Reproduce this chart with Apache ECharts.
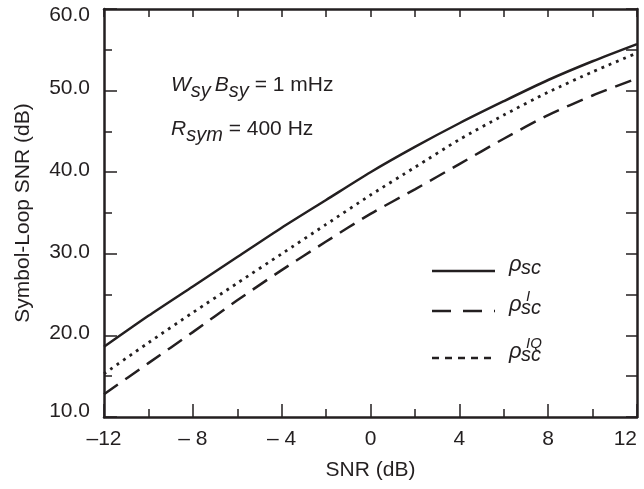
<!DOCTYPE html>
<html>
<head>
<meta charset="utf-8">
<script src="https://cdn.jsdelivr.net/npm/echarts@6/dist/echarts.min.js"></script>
<style>
  html, body { margin: 0; padding: 0; background: #fff; }
  #chart { width: 644px; height: 489px; }
</style>
</head>
<body>
<div id="chart"></div>
<script>
// Symbol-loop SNR versus SNR for the three loop variants
const snr = [-12, -10, -8, -6, -4, -2, 0, 2, 4, 6, 8, 10, 12];
const rhoSc = [18.6, 22.4, 26.0, 29.6, 33.2, 36.6, 40.0, 43.1, 46.0, 48.7, 51.3, 53.6, 55.7];
const rhoScIQ = [15.3, 19.1, 22.8, 26.4, 30.0, 33.6, 37.2, 40.6, 44.0, 47.0, 49.8, 52.3, 54.6];
const rhoScI = [12.8, 16.6, 20.4, 24.3, 28.0, 31.5, 34.9, 37.9, 41.0, 44.1, 47.0, 49.4, 51.5];
const xTicks = [-12, -8, -4, 0, 4, 8, 12];
const yTicks = [10, 20, 30, 40, 50, 60];

const INK = '#231f20';
const FONT = '"Liberation Sans", Arial, Helvetica, sans-serif';
const FS = 21;

const pairs = (ys) => snr.map((x, i) => [x, ys[i]]);

// measure text so that multi-part labels (subscripts, superscripts) can be laid out
const measureCtx = document.createElement('canvas').getContext('2d');
function textWidth(t, size, italic) {
  measureCtx.font = (italic ? 'italic ' : '') + size + 'px ' + FONT;
  return measureCtx.measureText(t).width;
}
function textEl(t, x, baseline, size, italic) {
  return {
    type: 'text', x: x, y: baseline - 0.32 * size, silent: true,
    style: {
      text: t, fill: INK, fontSize: size, fontFamily: FONT,
      fontStyle: italic ? 'italic' : 'normal',
      align: 'left', verticalAlign: 'middle'
    }
  };
}
// lay out a row of parts; each part: [text, size, italic, dy, extra gap after]
function textRun(x, baseline, parts) {
  const els = [];
  let cx = x;
  parts.forEach(([t, size, italic, dy, gap]) => {
    els.push(textEl(t, cx, baseline + (dy || 0), size, italic));
    cx += textWidth(t, size, italic) + (gap || 0);
  });
  return els;
}

const graphics = [];
// parameter annotations
graphics.push(...textRun(171, 92, [
  ['W', FS, true, 0], ['sy', 20, true, 6, 4], ['B', FS, true, 0], ['sy', 20, true, 6], [' = 1 mHz', FS, false, 0]
]));
graphics.push(...textRun(171, 136, [
  ['R', FS, true, 0], ['sym', 20, true, 6], [' = 400 Hz', FS, false, 0]
]));

// legend
const legendRows = [
  { y: 271, dash: null, sup: null },
  { y: 311, dash: [19, 12], sup: 'I' },
  { y: 358, dash: [7, 6], sup: 'IQ' }
];
legendRows.forEach((r) => {
  graphics.push({
    type: 'line', silent: true,
    shape: { x1: 432, y1: r.y, x2: 495, y2: r.y },
    style: { stroke: INK, lineWidth: 2.5, lineDash: r.dash || null }
  });
  graphics.push(textEl('\u03c1', 509, r.y + 1, 22, true));
  graphics.push(textEl('sc', 521, r.y + 4, 20, true));
  if (r.sup) graphics.push(textEl(r.sup, 526, r.y - 9, 15, true));
});

const chart = echarts.init(document.getElementById('chart'), null, { renderer: 'canvas' });

const lineSeries = (name, ys, type, width) => ({
  name: name, type: 'line', data: pairs(ys), showSymbol: false, smooth: 0.25,
  xAxisIndex: 0, yAxisIndex: 0, silent: true,
  lineStyle: { color: INK, width: width, type: type, cap: 'butt' }
});

const frameLine = { show: true, onZero: false, lineStyle: { color: INK, width: 2.5 } };
const labelBase = { fontSize: FS, color: INK, fontFamily: FONT };

chart.setOption({
  animation: false,
  backgroundColor: '#fff',
  textStyle: { fontFamily: FONT, color: INK },
  grid: { left: 104, right: 7, top: 9, bottom: 72 },
  xAxis: [{
    type: 'value', min: -12, max: 12, interval: 4, position: 'bottom',
    name: 'SNR (dB)', nameLocation: 'middle', nameGap: 43,
    nameTextStyle: labelBase,
    axisLine: frameLine,
    axisTick: { show: true, inside: true, length: 13, lineStyle: { color: INK, width: 1.5 } },
    minorTick: { show: true, splitNumber: 2, length: 8, lineStyle: { color: INK, width: 1.5 } },
    splitLine: { show: false },
    axisLabel: Object.assign({}, labelBase, {
      margin: 12, alignMaxLabel: 'right',
      formatter: (v) => {
        if (xTicks.indexOf(v) < 0) return '';
        if (v < 0) return '\u2013' + (v > -10 ? ' ' : '') + Math.abs(v);
        return String(v);
      }
    })
  }, {
    type: 'value', min: -12, max: 12, interval: 2, position: 'top',
    axisLine: frameLine,
    axisTick: { show: true, inside: true, length: 8, lineStyle: { color: INK, width: 1.5 } },
    axisLabel: { show: false }, splitLine: { show: false }
  }],
  yAxis: [{
    type: 'value', min: 10, max: 60, interval: 10, position: 'left',
    name: 'Symbol-Loop SNR (dB)', nameLocation: 'middle', nameGap: 70,
    nameTextStyle: labelBase,
    axisLine: frameLine,
    axisTick: { show: true, inside: true, length: 13, lineStyle: { color: INK, width: 1.5 } },
    minorTick: { show: true, splitNumber: 2, length: 8, lineStyle: { color: INK, width: 1.5 } },
    splitLine: { show: false },
    axisLabel: Object.assign({}, labelBase, {
      margin: 14,
      formatter: (v) => {
        if (yTicks.indexOf(v) < 0) return '';
        const s = v.toFixed(1);
        if (v === 10) return '{lo|' + s + '}';
        if (v === 60) return '{hi|' + s + '}';
        return '{mid|' + s + '}';
      },
      rich: {
        lo: Object.assign({}, labelBase, { padding: [0, 0, 12, 0] }),
        mid: Object.assign({}, labelBase, { padding: [0, 0, 4, 0] }),
        hi: Object.assign({}, labelBase, { padding: [12, 0, 0, 0] })
      }
    })
  }, {
    type: 'value', min: 10, max: 60, interval: 5, position: 'right',
    axisLine: frameLine,
    axisTick: { show: true, inside: true, length: 11, lineStyle: { color: INK, width: 1.5 } },
    axisLabel: { show: false }, splitLine: { show: false }
  }],
  series: [
    lineSeries('\u03c1sc', rhoSc, 'solid', 2.5),
    lineSeries('\u03c1sc IQ', rhoScIQ, [2.8, 5], 2.8),
    lineSeries('\u03c1sc I', rhoScI, [17, 9], 2.5)
  ],
  graphic: graphics
});
</script>
</body>
</html>
